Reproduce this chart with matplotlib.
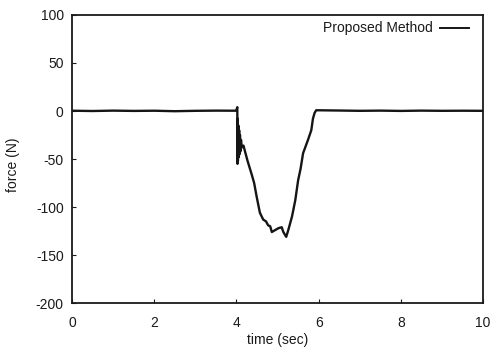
import matplotlib
matplotlib.use("Agg")
import matplotlib.pyplot as plt
from matplotlib.lines import Line2D

t = [0.0, 0.5, 1.0, 1.5, 2.0, 2.5, 3.0, 3.5, 3.98, 4.00, 4.02, 4.025, 4.03, 4.035, 4.045, 4.055,
     4.065, 4.075, 4.085, 4.095, 4.11, 4.13, 4.17, 4.27, 4.37, 4.43, 4.49, 4.57, 4.65, 4.72, 4.77,
     4.82, 4.86, 4.94, 5.02, 5.10, 5.14, 5.21, 5.26, 5.35, 5.43, 5.50, 5.56, 5.62, 5.74, 5.82,
     5.86, 5.90, 5.94, 6.5, 7.0, 7.5, 8.0, 8.5, 9.0, 9.5, 10.0]
force = [0.3, 0.0, 0.4, 0.1, 0.3, -0.2, 0.2, 0.4, 0.3, 1.0, 4.0, -55, -8, -52, -15, -48,
         -20, -45, -25, -42, -30, -38, -36, -52, -66, -75, -89, -106, -113, -115, -119,
         -120, -126, -124, -122, -121, -126, -131, -124, -110, -93, -72, -60, -44, -30, -20,
         -8, -2, 0.8, 0.5, 0.2, 0.4, 0.1, 0.4, 0.2, 0.3, 0.2]

xticks = [0, 2, 4, 6, 8, 10]
yticks = [100, 50, 0, -50, -100, -150, -200]

plt.rcParams['font.family'] = ['Liberation Sans', 'DejaVu Sans']
fs = 10

fig = plt.figure(figsize=(4.9, 3.48), dpi=100)
ax = fig.add_axes([0.147, 0.129, 0.839, 0.828])
ax.plot(t, force, color='#151515', lw=1.7)
ax.set_xlim(0, 10)
ax.set_ylim(-200, 100)
ax.set_xticks(xticks)
ax.set_yticks(yticks)
ax.set_yticklabels([str(v) for v in yticks])
ax.tick_params(direction='in', length=3, labelsize=fs, colors='#1a1a1a')
ax.tick_params(axis='x', pad=9)
ax.tick_params(axis='y', pad=6)
for s in ax.spines.values():
    s.set_linewidth(1.3)
    s.set_color('#1a1a1a')
ax.set_xlabel('time (sec)', fontsize=fs, color='#1a1a1a')
ax.xaxis.set_label_coords(0.5, -0.103)
ax.set_ylabel('force (N)', fontsize=fs, color='#1a1a1a')
ax.yaxis.set_label_coords(-0.127, 0.479)

ax.text(0.878, 0.955, 'Proposed Method', transform=ax.transAxes, ha='right', va='center',
        fontsize=fs, color='#1a1a1a')
ax.add_line(Line2D([0.895, 0.965], [0.955, 0.955], transform=ax.transAxes, color='#151515', lw=1.4))

fig.savefig('out.png', dpi=100)
